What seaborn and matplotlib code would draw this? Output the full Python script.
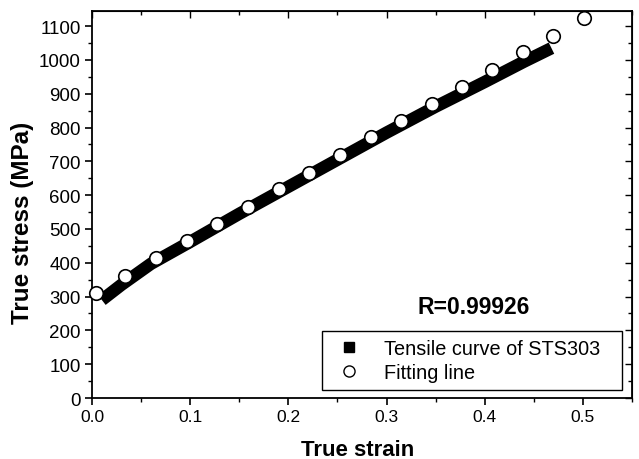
import numpy as np
import pandas as pd
import seaborn as sns
import matplotlib.pyplot as plt
from matplotlib.lines import Line2D
from matplotlib.ticker import MultipleLocator

# -------------------- DATOS --------------------
curve_strain = [0.010, 0.030, 0.060, 0.100, 0.150, 0.200, 0.250, 0.300, 0.350, 0.400, 0.440, 0.468]
curve_stress = [290, 335, 397, 462, 545, 625, 705, 785, 862, 935, 995, 1035]

fit_strain = [0.004, 0.034, 0.065, 0.097, 0.127, 0.159, 0.190, 0.221, 0.253,
              0.284, 0.315, 0.346, 0.377, 0.407, 0.439, 0.470, 0.501]
fit_stress = [311, 362, 415, 465, 516, 566, 617, 667, 718,
              771, 818, 869, 919, 969, 1023, 1070, 1124]

x_ticks = [0.0, 0.1, 0.2, 0.3, 0.4, 0.5]
x_labels = ["0.0", "0.1", "0.2", "0.3", "0.4", "0.5"]
y_ticks = list(range(0, 1101, 100))

curve = pd.DataFrame({"strain": curve_strain, "stress": curve_stress})
fit = pd.DataFrame({"strain": fit_strain, "stress": fit_stress})

# -------------------- GRAFICO --------------------
sns.set_style("ticks", {"axes.edgecolor": "black", "text.color": "black",
                        "axes.labelcolor": "black", "xtick.color": "black",
                        "ytick.color": "black"})
plt.rcParams["font.family"] = ["Liberation Sans", "DejaVu Sans"]

fig = plt.figure(figsize=(6.39, 4.60), dpi=100)
ax = fig.add_axes([0.144, 0.1326, 0.845, 0.8414])

sns.lineplot(data=curve, x="strain", y="stress", color="black", linewidth=9,
             solid_capstyle="butt", ax=ax)
sns.scatterplot(data=fit, x="strain", y="stress", marker="o", s=95,
                facecolor="white", edgecolor="black", linewidth=1.2, zorder=5,
                clip_on=False, ax=ax)

ax.set_xlim(0, 0.55)
ax.set_ylim(0, 1145)
ax.set_xticks(x_ticks)
ax.set_xticklabels(x_labels)
ax.set_yticks(y_ticks)
ax.xaxis.set_minor_locator(MultipleLocator(0.05))
ax.yaxis.set_minor_locator(MultipleLocator(50))
ax.tick_params(which="major", direction="out", length=5, width=1.2, pad=3)
ax.tick_params(axis="x", labelsize=12.5)
ax.tick_params(axis="y", labelsize=13.5)
ax.tick_params(which="minor", direction="out", length=3, width=1.0)

for s in ax.spines.values():
    s.set_linewidth(1.3)
    s.set_visible(True)

# ticks de arriba y derecha hacia adentro
top = ax.secondary_xaxis("top")
top.set_xticks(x_ticks)
top.xaxis.set_minor_locator(MultipleLocator(0.05))
top.tick_params(which="both", direction="in", labeltop=False, width=1.0)
top.tick_params(which="major", length=5)
top.tick_params(which="minor", length=3)
right = ax.secondary_yaxis("right")
right.set_yticks(y_ticks)
right.yaxis.set_minor_locator(MultipleLocator(50))
right.tick_params(which="both", direction="in", labelright=False, width=1.0)
right.tick_params(which="major", length=5)
right.tick_params(which="minor", length=3)

ax.set_xlabel("True strain", fontsize=16, fontweight="bold")
ax.set_ylabel("True stress (MPa)", fontsize=17.5, fontweight="bold")
ax.xaxis.set_label_coords(0.491, -0.105)
ax.yaxis.set_label_coords(-0.108, 0.455)

ax.text(0.389, 270, "R=0.99926", fontsize=16.5, fontweight="bold", ha="center", va="center")

handles = [
    Line2D([], [], linestyle="none", marker="s", markersize=7, color="black"),
    Line2D([], [], linestyle="none", marker="o", markersize=8,
           markerfacecolor="white", markeredgecolor="black"),
]
leg = ax.legend(handles, ["Tensile curve of STS303", "Fitting line"],
                loc="lower left", bbox_to_anchor=(0.426, 0.02, 0.555, 0.15),
                mode="expand", fontsize=14.3,
                frameon=True, fancybox=False, edgecolor="black", framealpha=1,
                handlelength=1.9, handletextpad=0.8, borderpad=0.4,
                labelspacing=0.25, borderaxespad=0)
leg.get_frame().set_linewidth(1.0)

fig.savefig("out.png", dpi=100)
